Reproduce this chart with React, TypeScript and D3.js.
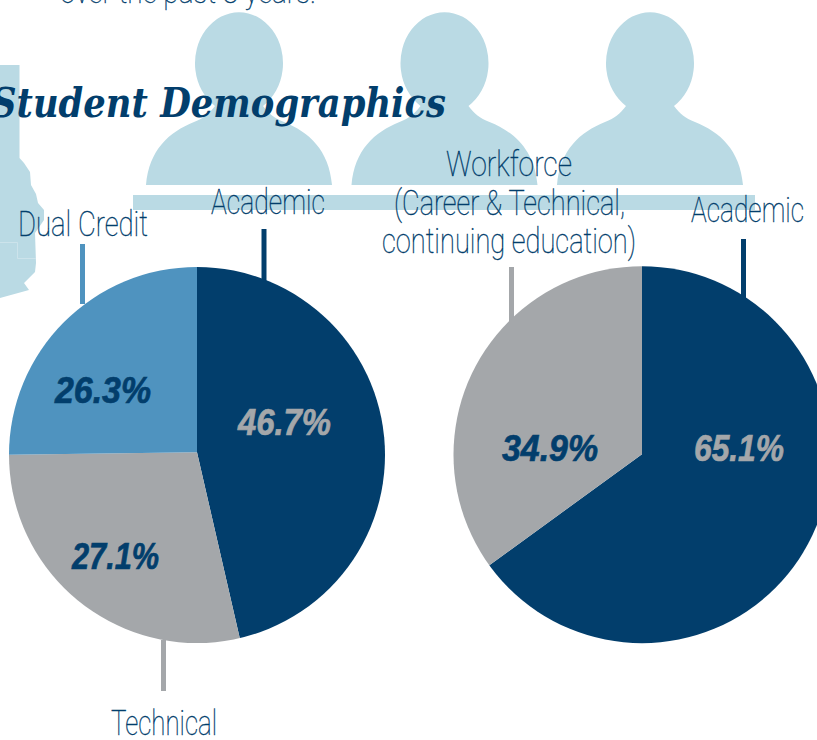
import React from "react";
import * as d3 from "d3";

const NAVY = "#023e6c", BLUE = "#4f93bf", GRAY = "#a4a7aa", LIGHT = "#badae4";

const leftCategories = ["Academic", "Technical", "Dual Credit"];
const leftShares = [46.4, 28.4, 25.2];
const leftLabels = ["46.7%", "27.1%", "26.3%"];
const leftColors = [NAVY, GRAY, BLUE];
const rightCategories = ["Academic", "Workforce"];
const rightShares = [65.0, 35.0];
const rightLabels = ["65.1%", "34.9%"];
const rightColors = [NAVY, GRAY];
const personCenters = [239, 444.5, 650];

const pieGen = d3.pie<number>().sort(null);
const arcGen = d3.arc<d3.PieArcDatum<number>>().innerRadius(0);

function Pie({ id, cx, cy, r, apexY, shares, colors }: { id: string; cx: number; cy: number; r: number; apexY: number; shares: number[]; colors: string[] }) {
  return (
    <g>
      <clipPath id={id}><circle cx={cx} cy={cy} r={r} /></clipPath>
      <g clipPath={`url(#${id})`}>
        <g transform={`translate(${cx},${apexY})`}>
          {pieGen(shares).map((d, i) => (
            <path key={i} d={arcGen.outerRadius(r + 10)(d) as string} fill={colors[i]} />
          ))}
        </g>
      </g>
    </g>
  );
}

function Person({ cx }: { cx: number }) {
  const d = `M${cx - 93},185 C${cx - 90},150 ${cx - 70},132 ${cx - 45},122 C${cx - 35},118 ${cx - 30},114 ${cx - 24},106
  A44,51 0 1 1 ${cx + 24},106 C${cx + 30},114 ${cx + 35},118 ${cx + 45},122 C${cx + 70},132 ${cx + 90},150 ${cx + 93},185 Z`;
  return <path d={d} fill={LIGHT} />;
}

const mapOutline: [number, number][] = [
  [0, 65], [19.5, 65], [19.5, 158], [24, 163], [30, 172], [31, 185], [36, 194], [38, 203], [44, 210], [44, 220],
  [35, 233], [36, 263], [35, 272], [24, 283], [29, 290], [0, 298],
];

type T = { text: string; x: number; y: number; w: number };
const thinLabels: T[] = [
  { text: "Dual Credit", x: 18, y: 236, w: 130 },
  { text: "Academic", x: 211, y: 214, w: 114 },
  { text: "Workforce", x: 446, y: 176, w: 126 },
  { text: "(Career & Technical,", x: 394, y: 215, w: 231 },
  { text: "continuing education)", x: 382, y: 253, w: 254 },
  { text: "Academic", x: 691, y: 222, w: 113 },
  { text: "Technical", x: 111, y: 735, w: 106 },
];

const pctPositions = [
  { x: 238, y: 435, w: 93, fill: GRAY },
  { x: 72, y: 569, w: 87, fill: NAVY },
  { x: 55, y: 403, w: 96, fill: NAVY },
];
const pctPositionsRight = [
  { x: 694, y: 461, w: 90, fill: GRAY },
  { x: 502, y: 461, w: 96, fill: NAVY },
];

const leaders = [
  { x: 264, y1: 229, y2: 282, c: NAVY },
  { x: 82.5, y1: 244, y2: 304, c: BLUE },
  { x: 163.5, y1: 640, y2: 691, c: GRAY },
  { x: 511.5, y1: 267, y2: 322, c: GRAY },
  { x: 743.5, y1: 239, y2: 299, c: NAVY },
];

export default function App() {
  return (
    <svg width={817} height={740} style={{ position: "absolute", left: 0, top: 0, background: "#fff" }}>
      <path d={d3.line()(mapOutline) as string} fill={LIGHT} />
      <path d="M0,242.5H17.5V258.5H36" fill="none" stroke="#d4e7ee" strokeWidth={0.7} />
      {personCenters.map((c) => <Person key={c} cx={c} />)}
      <rect x={133} y={195} width={622} height={15} fill={LIGHT} />
      <text x={60} y={3} textLength={256} lengthAdjust="spacingAndGlyphs" fontFamily="Roboto" fontWeight={100} fontSize={34} stroke={NAVY} strokeWidth={0.4} fill={NAVY}>over the past 8 years.</text>
      <text x={-9} y={117} textLength={455} lengthAdjust="spacingAndGlyphs" fontFamily="DejaVu Serif" fontWeight={700} fontStyle="italic" fontSize={41} fill={NAVY}>Student Demographics</text>
      {leaders.map((l, i) => <line key={i} x1={l.x} x2={l.x} y1={l.y1} y2={l.y2} stroke={l.c} strokeWidth={5} />)}
      <Pie id="pl" cx={197} cy={455} r={188} apexY={452.3} shares={leftShares} colors={leftColors} />
      <Pie id="pr" cx={642} cy={454.7} r={188.5} apexY={454.3} shares={rightShares} colors={rightColors} />
      {thinLabels.map((t, i) => (
        <text key={i} x={t.x} y={t.y} textLength={t.w} lengthAdjust="spacingAndGlyphs" fontFamily="Roboto" fontWeight={100} fontSize={35} stroke={NAVY} strokeWidth={0.4} fill={NAVY}>{t.text}</text>
      ))}
      {leftLabels.map((t, i) => {
        const p = pctPositions[i];
        return <text key={t} x={p.x} y={p.y} textLength={p.w} lengthAdjust="spacingAndGlyphs" fontFamily="Liberation Sans" fontWeight={700} fontStyle="italic" fontSize={36} stroke={p.fill} strokeWidth={0.7} fill={p.fill}>{t}</text>;
      })}
      {rightLabels.map((t, i) => {
        const p = pctPositionsRight[i];
        return <text key={t} x={p.x} y={p.y} textLength={p.w} lengthAdjust="spacingAndGlyphs" fontFamily="Liberation Sans" fontWeight={700} fontStyle="italic" fontSize={36} stroke={p.fill} strokeWidth={0.7} fill={p.fill}>{t}</text>;
      })}
    </svg>
  );
}
